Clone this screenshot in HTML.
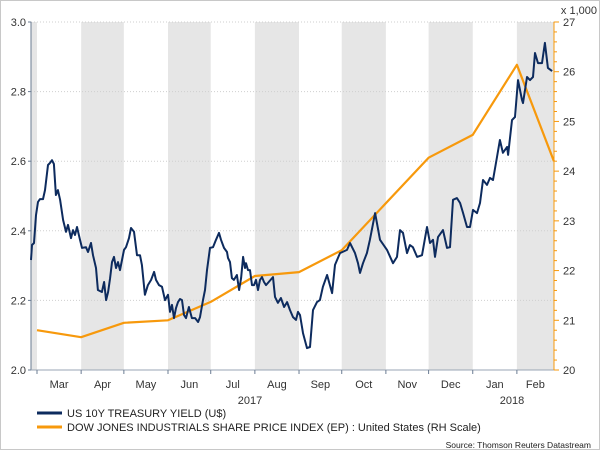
<!DOCTYPE html>
<html><head><meta charset="utf-8"><style>
body{margin:0;background:#fff}
svg{display:block;font-family:"Liberation Sans",sans-serif}
</style></head><body>
<svg id="chart" width="600" height="450" xmlns="http://www.w3.org/2000/svg">
<rect x="0.5" y="0.5" width="599" height="449" fill="#fff" stroke="#c8c8c8"/>
<g id="bands"></g><g id="grid"></g><g id="axes"></g><g id="series"></g>
<text x="597" y="14" font-size="11" fill="#333" text-anchor="end">x 1,000</text>
<text x="250" y="404" font-size="11" fill="#333" text-anchor="middle">2017</text>
<text x="512" y="404" font-size="11" fill="#333" text-anchor="middle">2018</text>
<g><line x1="37" y1="413" x2="62" y2="413" stroke="#0d2b5e" stroke-width="3"/><text x="67" y="417" font-size="11" fill="#222">US 10Y TREASURY YIELD (U$)</text></g>
<g><line x1="37" y1="427" x2="62" y2="427" stroke="#f7990c" stroke-width="3"/><text x="67" y="431" font-size="11" fill="#222">DOW JONES INDUSTRIALS SHARE PRICE INDEX (EP) : United States (RH Scale)</text></g>
<text x="591" y="448" font-size="8.5" fill="#222" text-anchor="end">Source: Thomson Reuters Datastream</text>
</svg>
<script>
// days since 1 Mar 2017
const yieldDays=[-4.2,-3.5,-2.1,-0.7,0.7,2.1,4.2,5.6,7.7,9.1,10.5,11.9,13.3,14.7,16.2,18.3,20.4,21.8,23.9,25.3,26.7,28.1,30.2,31.6,34.4,35.8,37.9,39.3,41.4,42.8,45.6,47.1,48.5,49.9,51.3,52.7,54.1,55.5,56.9,58.3,59.7,61.1,62.5,64.6,66.0,68.1,70.2,72.3,73.7,75.8,77.9,80.1,82.2,83.6,85.7,87.8,89.9,92.0,93.4,94.8,96.2,97.6,99.0,100.4,101.8,103.2,104.6,106.7,108.8,111.0,113.1,114.5,116.6,118.0,119.4,121.5,123.6,125.7,127.8,129.2,131.3,133.4,134.1,135.5,136.9,138.3,140.4,141.9,143.3,144.7,146.1,146.8,148.2,149.6,151.0,152.4,153.8,155.2,156.6,158.0,159.4,160.8,165.7,167.1,169.2,171.3,173.5,175.6,177.7,179.8,181.9,183.3,184.7,186.8,189.6,191.7,193.8,196.6,198.7,200.8,203.7,207.2,209.3,212.8,217.7,219.8,223.3,225.4,226.8,228.9,231.7,233.8,237.4,240.9,245.8,250.0,252.8,254.9,257.0,259.8,261.9,264.0,266.9,270.4,273.9,276.0,278.1,279.5,281.6,285.1,287.9,290.0,292.1,294.9,297.1,299.2,302.0,304.1,306.2,309.0,311.1,313.2,316.0,318.1,320.2,323.0,325.1,327.2,330.1,330.8,333.6,335.7,337.8,340.6,341.3,344.1,346.2,348.3,349.7,351.8,354.6,356.7,358.8,361.7];
const yieldVals=[2.316,2.359,2.365,2.445,2.483,2.491,2.491,2.517,2.589,2.595,2.603,2.592,2.503,2.517,2.489,2.431,2.397,2.417,2.379,2.402,2.388,2.411,2.374,2.351,2.353,2.339,2.365,2.330,2.293,2.230,2.224,2.253,2.201,2.224,2.264,2.310,2.325,2.293,2.310,2.287,2.316,2.345,2.353,2.379,2.408,2.397,2.330,2.330,2.302,2.216,2.244,2.259,2.282,2.259,2.244,2.239,2.201,2.216,2.167,2.187,2.149,2.178,2.195,2.204,2.201,2.158,2.149,2.181,2.149,2.149,2.138,2.152,2.201,2.230,2.287,2.351,2.353,2.374,2.394,2.374,2.351,2.339,2.322,2.310,2.264,2.259,2.273,2.230,2.264,2.325,2.293,2.307,2.287,2.287,2.244,2.244,2.259,2.230,2.259,2.267,2.253,2.244,2.267,2.210,2.193,2.207,2.181,2.195,2.172,2.152,2.144,2.167,2.158,2.106,2.063,2.066,2.172,2.195,2.201,2.239,2.273,2.221,2.302,2.336,2.345,2.365,2.336,2.307,2.279,2.307,2.336,2.374,2.451,2.374,2.345,2.307,2.325,2.402,2.394,2.336,2.359,2.353,2.325,2.330,2.411,2.365,2.374,2.325,2.382,2.402,2.351,2.353,2.489,2.494,2.480,2.451,2.411,2.411,2.460,2.451,2.480,2.546,2.532,2.552,2.546,2.612,2.661,2.624,2.641,2.618,2.718,2.727,2.833,2.776,2.767,2.842,2.833,2.842,2.911,2.882,2.882,2.940,2.868,2.859];
const dowDays=[0,31,61,92,122,153,184,214,275,306,337,363];
const dowVals=[20.8,20.66,20.95,21.0,21.37,21.89,21.97,22.41,24.27,24.73,26.14,24.2];
const monthLabels=["Mar","Apr","May","Jun","Jul","Aug","Sep","Oct","Nov","Dec","Jan","Feb"];
const monthStarts=[0,31,61,92,122,153,184,214,245,275,306,337];
const leftTicks=[2.0,2.2,2.4,2.6,2.8,3.0];
const rightTicks=[20,21,22,23,24,25,26,27];

const NS="http://www.w3.org/2000/svg";
const X0=31,X1=554,Y0=370,Y1=22,dayPx=1.424,firstDay=-4.2,lastDay=363;
const xs=d=>37+d*dayPx;
const yl=v=>Y0-(v-2)*(Y0-Y1)/1;
const yr=v=>Y0-(v-20)*(Y0-Y1)/7;
function mk(tag,attrs,parent){const e=document.createElementNS(NS,tag);for(const k in attrs)e.setAttribute(k,attrs[k]);parent.appendChild(e);return e;}
const bands=document.getElementById('bands'),grid=document.getElementById('grid'),axes=document.getElementById('axes'),series=document.getElementById('series');
// shaded bands: Feb'17, Apr, Jun, Aug, Oct, Dec, Feb'18
const bounds=[firstDay,...monthStarts,lastDay];
for(let i=0;i<bounds.length-1;i++){
  if(i%2===0){
    const r=mk('rect',{x:xs(Math.max(bounds[i],firstDay)),y:Y1,width:xs(bounds[i+1])-xs(bounds[i]),height:Y0-Y1,fill:'#e6e6e6'},bands);
    
    
  }
}
leftTicks.forEach(v=>{
  if(v>2){const g=mk('line',{x1:X0,x2:X1,y1:yl(v),y2:yl(v),stroke:'#cfcfcf','stroke-dasharray':'1,2'},grid);
  
  }
  const t=mk('text',{x:26,y:yl(v)+4,'font-size':11,fill:'#333','text-anchor':'end'},axes);t.textContent=v.toFixed(1);
  
  
  mk('line',{x1:X0-3,x2:X0,y1:yl(v),y2:yl(v),stroke:'#6b7c93'},axes);
});
const la=mk('line',{x1:X0,x2:X0,y1:Y1,y2:Y0,stroke:'#6b7c93'},axes);


const ba=mk('line',{x1:X0,x2:X1,y1:Y0,y2:Y0,stroke:'#9aa5b4'},axes);


const ra=mk('line',{x1:X1,x2:X1,y1:Y1,y2:Y0,stroke:'#f7990c'},axes);


for(let v=20;v<=27.001;v+=0.2){mk('line',{x1:X1,x2:X1+(Math.abs(v-Math.round(v))<0.01?5:3),y1:yr(v),y2:yr(v),stroke:'#f7990c'},axes);}
rightTicks.forEach(v=>{const t=mk('text',{x:563,y:yr(v)+4,'font-size':11,fill:'#333'},axes);t.textContent=v;
  
  });
monthStarts.forEach((d,i)=>{
  mk('line',{x1:xs(d),x2:xs(d),y1:Y0,y2:Y0+4,stroke:'#6b7c93'},axes);
  const end=i+1<monthStarts.length?monthStarts[i+1]:lastDay;
  const t=mk('text',{x:(xs(d)+xs(end))/2,y:388,'font-size':11,fill:'#333','text-anchor':'middle'},axes);t.textContent=monthLabels[i];
  
  
});
const dp=mk('polyline',{points:dowDays.map((d,i)=>xs(d).toFixed(1)+','+yr(dowVals[i]).toFixed(1)).join(' '),fill:'none',stroke:'#f7990c','stroke-width':2.2,'stroke-linejoin':'round'},series);


const yp=mk('polyline',{points:yieldDays.map((d,i)=>xs(d).toFixed(1)+','+yl(yieldVals[i]).toFixed(1)).join(' '),fill:'none',stroke:'#0d2b5e','stroke-width':2,'stroke-linejoin':'round'},series);


</script>
</body></html>
